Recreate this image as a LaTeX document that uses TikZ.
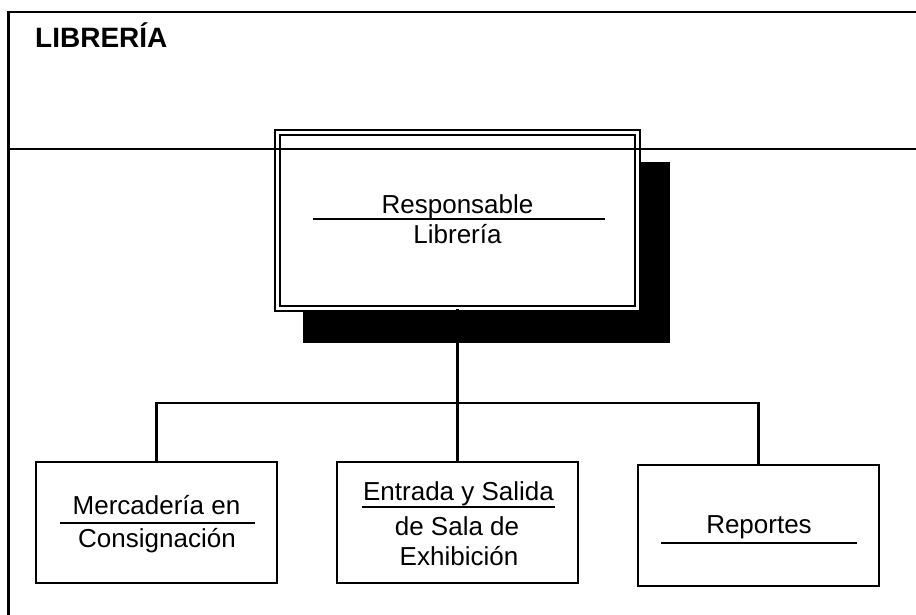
\documentclass[tikz,border=0pt]{standalone}
\usepackage{fontspec}
\setmainfont{Liberation Sans}
\usetikzlibrary{positioning}

\begin{document}
\begin{tikzpicture}[x=1pt,y=-1pt,
            box/.style={draw,line width=2.6pt,fill=white,minimum width=241pt,minimum height=121pt,inner sep=0pt,outer sep=0pt},
            txt/.style={anchor=base,inner sep=0pt,font=\fontsize{26}{31}\selectfont},
            rule/.style={line width=2.4pt},
            frame/.style={line width=2.4pt}]
            \useasboundingbox (0,0) rectangle (916,615);
            \draw[frame] (916,12)--(8.5,12)--(8.5,615);
            \node[anchor=base west,inner sep=0pt,font=\bfseries\fontsize{28}{33}\selectfont] (title) at (35,48) {LIBRERÍA};
            \fill[black] (303,162) rectangle (670,343);
            \node[draw,fill=white,line width=2.4pt,double,double distance=2.6pt,minimum width=360pt,minimum height=176pt,inner sep=0pt,outer sep=0pt] (resp) at (457.5,220.5) {};
            \draw[frame] (8.5,149)--(916,149);
            \node[txt] (respA) at (457.5,213) {Responsable};
            \draw[rule] (313,219)--(605,219);
            \node[txt] (respB) at (457.5,243) {Librería};
            \node[box] (merc) at (156.5,522.5) {};
            \node[box,right=60pt of merc] (ent) {};
            \node[box,right=60pt of ent,yshift=-3pt] (rep) {};
            \coordinate (bus) at (457.5,403);
            \draw[frame] (resp.south)--(ent.north);
            \draw[frame] (merc.north) |- (bus) -| (rep.north);
            \node[txt] (mercA) at (156.5,514) {Mercadería en};
            \draw[rule] (60,523)--(255,523);
            \node[txt] (mercB) at (157,547) {Consignación};
            \node[txt] (entA) at (458.5,500) {Entrada y Salida};
            \draw[rule] (362,507)--(555,507);
            \node[txt] (entB) at (457,535) {de Sala de};
            \node[txt] (entC) at (459,565) {Exhibición};
            \node[txt] (repA) at (759,533) {Reportes};
            \draw[rule] (661,543)--(857,543);
        \end{tikzpicture}
\end{document}
